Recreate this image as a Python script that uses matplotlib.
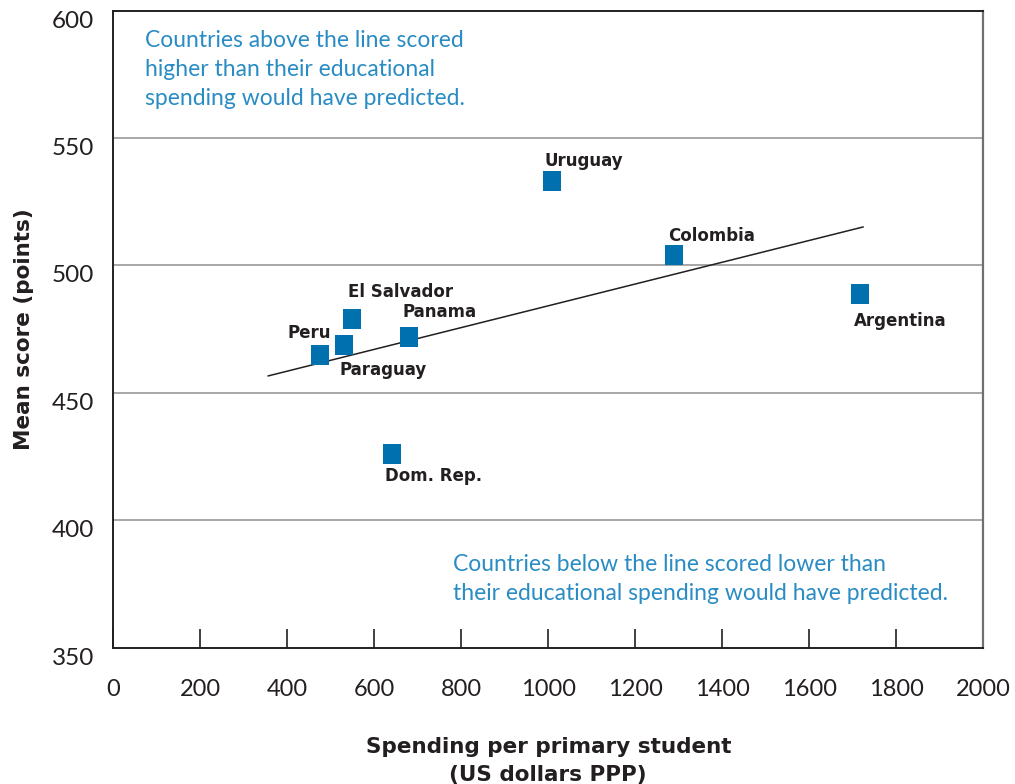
import matplotlib.pyplot as plt
from matplotlib.path import Path

plt.rcParams['font.family'] = ['Lato', 'DejaVu Sans']

# data
countries = ['Uruguay', 'Colombia', 'Argentina', 'El Salvador', 'Panama',
             'Peru', 'Paraguay', 'Dom. Rep.']
spending = [1009, 1290, 1717, 549, 680, 474, 531, 641]
scores = [533, 504, 489, 479, 472, 465, 469, 426]

# trend line end points
trend_x = [356, 1724]
trend_y = [456.7, 515.1]

x_ticks = [0, 200, 400, 600, 800, 1000, 1200, 1400, 1600, 1800, 2000]
y_ticks = [350, 400, 450, 500, 550, 600]

blue = '#0070ae'
text_blue = '#2a8cc4'
dark = '#231f20'
bold_font = ['DejaVu Sans']

fig = plt.figure(figsize=(10.15, 7.84), dpi=100)
ax = fig.add_axes([0.1118, 0.1735, 0.8567, 0.8131])

for y in [400, 450, 500, 550]:
    ax.axhline(y, color='#a0a0a0', lw=1.3, zorder=0)

ax.plot(trend_x, trend_y, color=dark, lw=1.1, zorder=2)

# slightly tall square marker
rect = Path([(-0.85, -1), (0.85, -1), (0.85, 1), (-0.85, 1), (-0.85, -1)],
            [Path.MOVETO, Path.LINETO, Path.LINETO, Path.LINETO, Path.CLOSEPOLY])
ax.plot(spending, scores, ls='none', marker=rect, ms=14.5,
        color=blue, mec=blue, mew=0, zorder=3)

# label offsets in pixels (dx, dy, ha)
offsets = {
    'Uruguay': (-8, 20, 'left'),
    'Colombia': (-6, 19, 'left'),
    'Argentina': (-6, -27, 'left'),
    'El Salvador': (-4, 27, 'left'),
    'Panama': (-7, 25, 'left'),
    'Peru': (11, 22, 'right'),
    'Paraguay': (-5, -25, 'left'),
    'Dom. Rep.': (-7, -22, 'left'),
}
for name, xv, yv in zip(countries, spending, scores):
    dx, dy, ha = offsets[name]
    ax.annotate(name, (xv, yv), xytext=(dx, dy), textcoords='offset pixels',
                ha=ha, va='center', fontsize=12, fontweight='bold',
                family=bold_font, color=dark)

ax.text(0.036, 0.969, 'Countries above the line scored\nhigher than their educational\nspending would have predicted.',
        transform=ax.transAxes, ha='left', va='top', fontsize=16.5,
        color=text_blue, linespacing=1.47)
ax.text(0.391, 0.1075, 'Countries below the line scored lower than\ntheir educational spending would have predicted.',
        transform=ax.transAxes, ha='left', va='center', fontsize=16.5,
        color=text_blue, linespacing=1.47)

ax.set_xlim(0, 2000)
ax.set_ylim(350, 600)
ax.set_xticks(x_ticks)
ax.set_yticks(y_ticks)
ax.tick_params(axis='x', direction='in', length=14, width=1.2, color=dark,
               pad=22, labelsize=17, labelcolor=dark)
ax.tick_params(axis='y', length=0, pad=14, labelsize=17.5, labelcolor=dark)
for lab in ax.get_yticklabels():
    lab.set_va('top')

for side in ['left', 'bottom', 'top']:
    ax.spines[side].set_color(dark)
    ax.spines[side].set_linewidth(1.4)
ax.spines['right'].set_color('#707070')
ax.spines['right'].set_linewidth(1.6)

ax.set_xlabel('Spending per primary student\n(US dollars PPP)', fontsize=15.5,
              fontweight='bold', family=bold_font, color=dark, labelpad=27,
              linespacing=1.5)
ax.set_ylabel('Mean score (points)', fontsize=15.5, fontweight='bold',
              family=bold_font, color=dark, labelpad=13)

fig.savefig('out.png', dpi=100)
